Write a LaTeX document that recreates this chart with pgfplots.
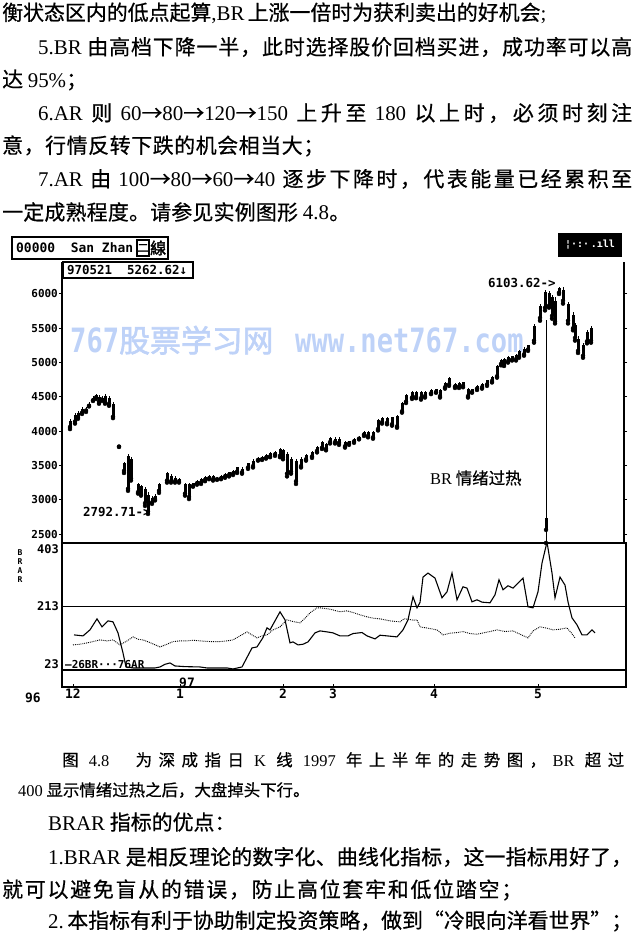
\documentclass[border=0pt]{standalone}
\usepackage{fontspec}
\usepackage{pgfplots}
\pgfplotsset{compat=1.18}
\usepackage{pgfplotstable}
\setmainfont{Liberation Serif}
\newfontfamily\cjk{Noto Sans CJK SC}[FakeBold=0.6]
\newfontfamily\cjkb{Noto Sans CJK SC}[FakeBold=2]
\newfontfamily\monob{DejaVu Sans Mono}[UprightFont={* Bold}]
\newcommand\lt[1]{{\rmfamily #1}}
\newcommand\bodyfont{\cjk\fontsize{21}{25}\selectfont}
\newcommand\capfont{\cjk\fontsize{16.5}{20}\selectfont}
\definecolor{wmblue}{RGB}{190,210,248}
\ExplSyntaxOn
\NewDocumentCommand \spreadline { m +m }
  {
    \hbox to #1
      {
        \skip_horizontal:n { 0pt plus -1fil }
        \tl_map_inline:nn {#2} { \skip_horizontal:n { 0pt plus 1fil } {##1} }
      }
  }
\ExplSyntaxOff

\pgfplotstableread{
x h l bt bb
70 4180 4030 4150 4060
75 4270 4110 4240 4140
78 4290 4180 4270 4200
82 4350 4250 4330 4270
86 4350 4280 4330 4300
89 4420 4360 4400 4370
93 4510 4440 4490 4450
96 4540 4470 4520 4490
99 4520 4400 4500 4430
102 4510 4440 4490 4460
105 4540 4400 4510 4430
109 4510 4370 4490 4400
113 4430 4190 4400 4210
119 3800 3770 3795 3775
124 3550 3390 3530 3420
128 3670 3130 3640 3160
131 3630 3280 3600 3310
138 3250 3090 3230 3110
141 3220 3060 3200 3080
145 3180 2910 3150 2950
148 3110 2793 3070 2830
152 3050 2940 3030 2960
155 3080 2990 3060 3010
159 3250 3100 3230 3130
167 3410 3250 3390 3280
171 3370 3250 3350 3270
175 3340 3250 3320 3270
179 3310 3250 3300 3270
185 3250 3060 3230 3090
189 3250 3010 3230 3040
193 3250 3190 3240 3200
197 3290 3220 3280 3240
201 3310 3230 3300 3250
205 3340 3270 3330 3290
209 3360 3300 3350 3310
213 3360 3280 3350 3300
217 3330 3290 3320 3300
221 3360 3300 3350 3310
225 3390 3320 3380 3340
229 3410 3340 3400 3360
233 3430 3360 3420 3380
237 3480 3390 3470 3410
242 3470 3380 3450 3400
248 3540 3450 3530 3470
253 3590 3470 3570 3490
258 3620 3570 3610 3580
262 3640 3580 3630 3590
266 3660 3600 3650 3610
270 3690 3620 3680 3630
275 3710 3640 3700 3660
280 3760 3620 3740 3640
283 3740 3590 3720 3620
287 3690 3340 3660 3380
291 3620 3380 3600 3410
296 3590 3230 3560 3270
301 3620 3470 3600 3490
306 3660 3570 3650 3590
312 3710 3610 3700 3630
317 3780 3690 3770 3710
322 3850 3740 3840 3760
326 3830 3720 3810 3740
330 3910 3820 3900 3840
335 3910 3820 3890 3840
339 3910 3800 3890 3830
345 3850 3760 3840 3780
349 3860 3800 3850 3820
354 3900 3830 3890 3850
359 3930 3880 3920 3890
364 4000 3930 3990 3950
368 4000 3910 3990 3930
373 4000 3890 3990 3910
378 4170 4010 4160 4030
382 4200 4110 4190 4130
387 4200 4100 4190 4120
392 4210 4080 4200 4100
397 4240 4050 4220 4070
402 4430 4270 4410 4290
406 4540 4410 4530 4430
412 4580 4470 4570 4490
416 4580 4480 4570 4500
421 4580 4460 4570 4480
425 4580 4490 4570 4510
431 4610 4540 4600 4550
436 4620 4560 4610 4570
440 4610 4490 4600 4510
445 4710 4620 4700 4640
449 4790 4660 4780 4680
455 4700 4630 4690 4650
459 4710 4630 4700 4650
463 4720 4640 4710 4660
468 4630 4490 4610 4510
472 4620 4560 4610 4570
477 4670 4600 4660 4620
482 4700 4620 4690 4640
487 4750 4660 4740 4680
492 4800 4710 4790 4730
497 4970 4780 4950 4800
501 5050 4960 5040 4980
504 5060 4950 5050 4970
508 5090 5000 5080 5020
512 5100 5030 5090 5040
516 5120 5030 5110 5050
519 5190 5070 5170 5090
524 5220 5100 5200 5120
528 5260 5170 5250 5190
534 5560 5290 5540 5320
540 5850 5610 5820 5650
545 6060 5760 6030 5800
546 5620 2369 2730 2560
549 6040 5800 6010 5830
552 5990 5640 5950 5680
555 5950 5570 5900 5600
559 6104 6000 6080 6020
563 6100 5860 6060 5900
568 5890 5570 5850 5610
573 5730 5470 5700 5500
575 5580 5320 5550 5360
578 5380 5140 5340 5170
583 5290 5070 5260 5100
587 5480 5280 5450 5310
591 5530 5290 5500 5320
}\candles

\pgfplotstableread{
x v
74 128
83 125
90 143
97 176
102 152
108 170
113 167
118 134
123 74
126 32
133 29
145 29
155 29
160 32
165 40
170 44
175 35
185 33
200 32
207 29
220 29
227 29
233 26
242 32
252 89
257 92
263 120
267 149
270 143
275 170
280 197
285 173
290 104
293 107
298 98
303 100
308 107
315 134
320 140
327 137
333 134
340 125
348 125
353 132
362 135
367 125
375 116
380 127
387 125
397 122
403 143
408 173
413 242
417 209
420 225
423 301
428 313
435 298
442 239
447 257
452 313
457 233
463 272
467 268
472 227
477 233
482 226
490 224
495 248
499 293
503 263
508 275
513 268
523 298
528 212
533 209
538 257
542 343
547 406
552 313
555 239
560 301
565 277
568 227
572 179
577 158
582 128
587 128
592 143
595 134
}\brdata

\pgfplotstableread{
x v
73 98
80 100
87 104
93 108
100 113
107 110
113 113
120 98
127 110
133 122
138 115
143 113
150 105
160 92
167 100
173 108
180 110
187 110
193 112
200 110
210 108
220 108
227 110
233 113
240 125
247 137
252 128
257 119
262 125
267 128
273 143
280 152
287 173
293 168
300 164
305 178
310 194
317 209
320 209
330 205
340 197
347 200
353 195
360 188
367 182
373 178
380 176
390 170
400 167
404 176
408 175
413 172
417 173
420 152
428 148
437 143
443 128
450 133
457 135
463 138
470 132
477 130
485 135
490 138
497 143
505 138
513 140
520 130
528 119
533 140
540 152
547 148
553 143
560 145
567 149
571 135
575 119
}\ardata

\begin{document}
\begin{tikzpicture}
\useasboundingbox (0,0) rectangle (638bp,-938bp);

% ---------- top text ----------
\node[anchor=west,inner sep=0pt] at (2bp,-13bp) {\bodyfont\spreadline{538bp}{衡状态区内的低点起算{\lt{,BR}\ }上涨一倍时为获利卖出的好机会{\lt{;}}}};
\node[anchor=west,inner sep=0pt] at (38bp,-47bp) {\bodyfont\spreadline{594bp}{{\lt{5.BR}\ }由高档下降一半，此时选择股价回档买进，成功率可以高}};
\node[anchor=west,inner sep=0pt] at (2bp,-80bp) {\bodyfont 达 \lt{95\%}；};
\node[anchor=west,inner sep=0pt] at (38bp,-113bp) {\bodyfont\spreadline{594bp}{{\lt{6.AR}\ }则{\ \lt{60}→\lt{80}→\lt{120}→\lt{150}\ }上升至{\ \lt{180}\ }以上时，必须时刻注}};
\node[anchor=west,inner sep=0pt] at (2bp,-146bp) {\bodyfont\spreadline{322bp}{意，行情反转下跌的机会相当大；}};
\node[anchor=west,inner sep=0pt] at (38bp,-179bp) {\bodyfont\spreadline{594bp}{{\lt{7.AR}\ }由{\ \lt{100}→\lt{80}→\lt{60}→\lt{40}\ }逐步下降时，代表能量已经累积至}};
\node[anchor=west,inner sep=0pt] at (2bp,-212bp) {\bodyfont\spreadline{348bp}{一定成熟程度。请参见实例图形{\ \lt{4.8}}。}};

% ---------- watermark ----------
\node[anchor=base west,inner sep=0pt,text=wmblue] at (70bp,-352bp) {\scalebox{0.85}[1.05]{\monob\fontsize{32}{32}\selectfont 767}\cjkb\fontsize{31}{31}\selectfont 股票学习网};
\node[anchor=base west,inner sep=0pt,text=wmblue] at (295bp,-352bp) {\scalebox{0.85}[1.05]{\monob\fontsize{32}{32}\selectfont www.net767.com}};

% ---------- price panel ----------
\begin{axis}[
  at={(62bp,-543bp)}, anchor=south west,
  scale only axis, width=562bp, height=281bp,
  xmin=62, xmax=624, ymin=2369, ymax=6466,
  separate axis lines,
  x axis line style={draw=none},
  y axis line style={line width=1.3pt},
  xtick=\empty,
  ytick={2500,3000,3500,4000,4500,5000,5500,6000},
  yticklabel pos=left,
  tick align=outside,
  major tick length=3bp,
  tick style={line width=1pt,black},
  yticklabel style={font=\monob\fontsize{11}{11}\selectfont, inner sep=1bp},
  /pgf/number format/assume math mode=true,
  /pgf/number format/1000 sep={},
]
\addplot[black, only marks, mark=none,
  error bars/.cd, y dir=plus, y explicit, error mark=none,
  error bar style={line width=0.9bp, black}]
  table[x=x, y=l, y error expr={\thisrow{h}-\thisrow{l}}] {\candles};
\addplot[black, only marks, mark=none,
  error bars/.cd, y dir=plus, y explicit, error mark=none,
  error bar style={line width=3bp, black}]
  table[x=x, y=bb, y error expr={\thisrow{bt}-\thisrow{bb}}] {\candles};
\end{axis}

% ---------- BRAR panel ----------
\begin{axis}[
  at={(62bp,-687bp)}, anchor=south west,
  scale only axis, width=564bp, height=144bp,
  xmin=62, xmax=626, ymin=-28, ymax=403,
  axis line style={line width=1.3pt},
  xtick={73,180,283,333,434,538}, xticklabels={12,1,2,3,4,5},
  xtick pos=bottom, xtick align=inside,
  ytick={23,213,403}, yticklabels={},
  ytick style={draw=none},
  ymajorgrids, major grid style={line width=1.3pt, black},
  major tick length=3bp,
  tick style={line width=1pt,black},
  xticklabel style={font=\monob\fontsize{13}{13}\selectfont, inner sep=1bp, yshift=-1bp},
  /pgf/number format/assume math mode=true,
]
\addplot[black, line width=1.1pt] table[x=x,y=v] {\brdata};
\addplot[black, densely dotted, line width=0.9pt] table[x=x,y=v] {\ardata};
\end{axis}

% ---------- chart annotations ----------
\node[anchor=east,inner sep=0pt] at (59bp,-549bp) {\monob\fontsize{12}{12}\selectfont 403};
\node[anchor=east,inner sep=0pt] at (59bp,-606bp) {\monob\fontsize{12}{12}\selectfont 213};
\node[anchor=east,inner sep=0pt] at (59bp,-664bp) {\monob\fontsize{12}{12}\selectfont 23};

\draw[line width=1.6pt] (12bp,-237bp) rectangle (168bp,-259bp);
\node[anchor=west,inner sep=0pt] at (16bp,-248bp) {\monob\fontsize{13}{13}\selectfont 00000\ \ San Zhan};
\draw[line width=1.2pt] (137bp,-240bp) rectangle (149bp,-256bp);
\node[inner sep=0pt] at (143bp,-248bp) {\cjkb\fontsize{11}{11}\selectfont 二};
\node[anchor=west,inner sep=0pt] at (150bp,-248bp) {\cjkb\fontsize{16}{16}\selectfont 線};
\draw[line width=1.2pt, fill=white] (63bp,-262bp) rectangle (193bp,-278bp);
\node[anchor=west,inner sep=0pt] at (67bp,-270bp) {\monob\fontsize{12.5}{12.5}\selectfont 970521\ \ 5262.62↓};
\fill[black] (558bp,-233bp) rectangle (622bp,-257bp);
\node[inner sep=0pt,text=white] at (590bp,-245bp) {\monob\fontsize{10}{10}\selectfont ¦·:·\,.ıll};

\node[anchor=west,inner sep=0pt] at (488bp,-283bp) {\monob\fontsize{12.5}{12.5}\selectfont 6103.62->};
\node[anchor=west,inner sep=0pt] at (83bp,-512bp) {\monob\fontsize{12.5}{12.5}\selectfont 2792.71->};
\node[anchor=west,inner sep=0pt] at (430bp,-478bp) {\cjk\fontsize{16.5}{16.5}\selectfont \lt{BR} 情绪过热};

\node[anchor=south west,inner sep=0pt] at (65bp,-669bp) {\monob\fontsize{11}{11}\selectfont —26BR···76AR};
\node[inner sep=0pt] at (187bp,-683bp) {\monob\fontsize{13}{13}\selectfont 97};
\node[inner sep=0pt] at (33bp,-698bp) {\monob\fontsize{13}{13}\selectfont 96};
\node[inner sep=0pt] at (20bp,-566bp) {\monob\fontsize{8}{9}\selectfont\shortstack{B\\R\\A\\R}};

% ---------- caption and bottom text ----------
\node[anchor=west,inner sep=0pt] at (62bp,-760bp) {\capfont\spreadline{562bp}{图{\ \lt{4.8}\hspace{1.2em}}为深成指日{\ \lt{K}\ }线{\ \lt{1997}\ }年上半年的走势图，{\lt{BR}\ }超过}};
\node[anchor=west,inner sep=0pt] at (18bp,-790bp) {\capfont \lt{400} 显示情绪过热之后，大盘掉头下行。};
\node[anchor=west,inner sep=0pt] at (48bp,-822bp) {\bodyfont \lt{BRAR} 指标的优点：};
\node[anchor=west,inner sep=0pt] at (48bp,-857bp) {\bodyfont\spreadline{584bp}{{\lt{1.BRAR}\ }是相反理论的数字化、曲线化指标，这一指标用好了，}};
\node[anchor=west,inner sep=0pt] at (2bp,-890bp) {\bodyfont\spreadline{520bp}{就可以避免盲从的错误，防止高位套牢和低位踏空；}};
\node[anchor=west,inner sep=0pt] at (48bp,-921bp) {\bodyfont\spreadline{584bp}{{\lt{2.}\ }本指标有利于协助制定投资策略，做到“冷眼向洋看世界”；}};
\end{tikzpicture}
\end{document}
